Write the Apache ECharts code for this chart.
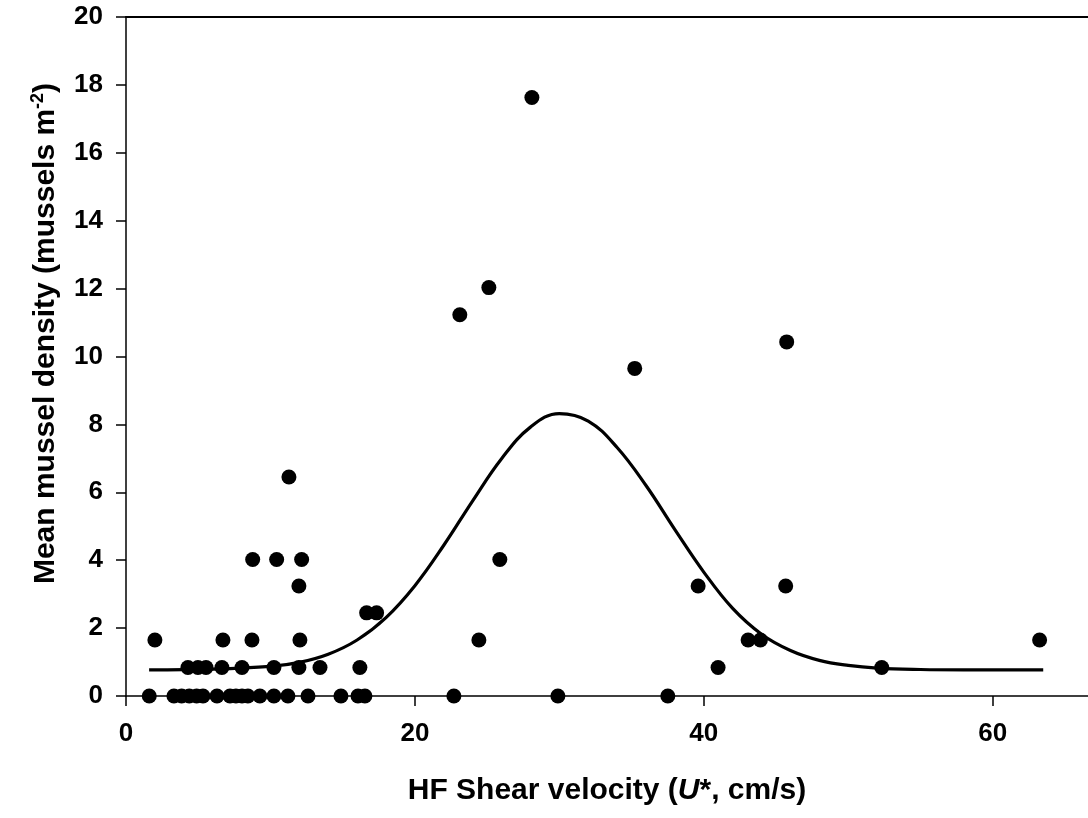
<!DOCTYPE html>
<html>
<head>
<meta charset="utf-8">
<script src="https://cdn.jsdelivr.net/npm/echarts@6/dist/echarts.min.js"></script>
<style>
html,body{margin:0;padding:0;background:#fff;}
#c{width:1088px;height:818px;}
</style>
</head>
<body>
<div id="c"></div>
<script>
// Observed points: shear velocity (cm/s) and mean mussel density
const shearX = [
  1.61, 3.32, 3.85, 4.38, 4.89, 5.33, 6.30, 7.20, 7.61, 8.03, 8.44, 9.27, 10.24, 11.21, 12.60, 14.88, 16.06, 16.54, 22.70, 29.90, 37.51,
  4.29, 4.98, 5.54, 6.64, 8.03, 10.24, 11.97, 13.43, 16.19, 40.99, 52.32,
  2.00, 6.71, 8.72, 12.04, 24.43, 43.07, 43.92, 63.25,
  16.66, 17.35,
  11.97, 39.61, 45.67,
  8.77, 10.43, 12.16, 25.88,
  11.28, 35.22, 45.74, 23.11, 25.12, 28.10
];
const densityY = [
  0, 0, 0, 0, 0, 0, 0, 0, 0, 0, 0, 0, 0, 0, 0, 0, 0, 0, 0, 0, 0,
  0.84, 0.84, 0.84, 0.84, 0.84, 0.84, 0.84, 0.84, 0.84, 0.84, 0.84,
  1.65, 1.65, 1.65, 1.65, 1.65, 1.65, 1.65, 1.65,
  2.45, 2.45,
  3.24, 3.24, 3.24,
  4.02, 4.02, 4.02, 4.02,
  6.45, 9.65, 10.43, 11.23, 12.03, 17.63
];
// Fitted curve
const curveX = [1.6, 6, 10, 12, 14, 16, 18, 20, 22, 24, 26, 28, 30, 32, 34, 36, 38, 40, 42, 44, 46, 48, 50, 52, 55, 58, 63.5];
const curveY = [0.77, 0.79, 0.87, 0.99, 1.23, 1.65, 2.31, 3.25, 4.44, 5.75, 6.99, 7.92, 8.32, 8.10, 7.32, 6.20, 4.90, 3.65, 2.58, 1.82, 1.34, 1.05, 0.90, 0.82, 0.78, 0.77, 0.77];
const xTicks = [0, 20, 40, 60];
const yTicks = [0, 2, 4, 6, 8, 10, 12, 14, 16, 18, 20];

const scatterData = shearX.map((x, i) => [x, densityY[i]]);
const curveData = curveX.map((x, i) => [x, curveY[i]]);

const FONT = '"Liberation Sans", Arial, sans-serif';
const chart = echarts.init(document.getElementById('c'), null, {renderer: 'canvas'});
chart.setOption({
  backgroundColor: '#fff',
  animation: false,
  grid: {left: 126, top: 17, right: 0, bottom: 122, containLabel: false},
  xAxis: [{
    type: 'value', min: 0, max: 66.6, interval: 20,
    axisLine: {show: true, lineStyle: {color: '#000', width: 1.5}},
    axisTick: {show: true, inside: false, length: 10, lineStyle: {color: '#000', width: 1.5}},
    axisLabel: {show: true, margin: 25, showMaxLabel: false, color: '#000', fontFamily: FONT, fontWeight: 'bold', fontSize: 26,
      formatter: v => xTicks.includes(v) ? String(v) : ''},
    splitLine: {show: false},
    name: 'HF Shear velocity ({i|U}*, cm/s)',
    nameLocation: 'middle', nameGap: 80,
    nameTextStyle: {color: '#000', fontFamily: FONT, fontWeight: 'bold', fontSize: 30,
      rich: {i: {fontFamily: FONT, fontWeight: 'bold', fontStyle: 'italic', fontSize: 30, color: '#000'}}}
  }, {
    type: 'value', position: 'top', min: 0, max: 66.6,
    axisLine: {show: true, lineStyle: {color: '#000', width: 2}},
    axisTick: {show: false}, axisLabel: {show: false}, splitLine: {show: false}
  }],
  yAxis: {
    type: 'value', min: 0, max: 20, interval: 2,
    axisLine: {show: true, lineStyle: {color: '#000', width: 1.5}},
    axisTick: {show: true, inside: false, length: 10, lineStyle: {color: '#000', width: 1.5}},
    axisLabel: {show: true, margin: 23, color: '#000', fontFamily: FONT, fontWeight: 'bold', fontSize: 26,
      formatter: v => yTicks.includes(v) ? String(v) : ''},
    splitLine: {show: false},
    name: 'Mean mussel density (mussels m{sup|-2})',
    nameLocation: 'middle', nameGap: 64,
    nameTextStyle: {color: '#000', fontFamily: FONT, fontWeight: 'bold', fontSize: 30, padding: [0, 0, 0, 46],
      rich: {sup: {fontFamily: FONT, fontWeight: 'bold', fontSize: 18, color: '#000', verticalAlign: 'top', padding: [0, 0, 15, 0]}}}
  },
  series: [{
    type: 'scatter', data: scatterData, symbol: 'circle', symbolSize: 15,
    itemStyle: {color: '#000', opacity: 1}, z: 2
  }, {
    type: 'line', data: curveData, smooth: 0.4, showSymbol: false, symbol: 'none',
    lineStyle: {color: '#000', width: 3.2}, z: 3
  }]
});
</script>
</body>
</html>
